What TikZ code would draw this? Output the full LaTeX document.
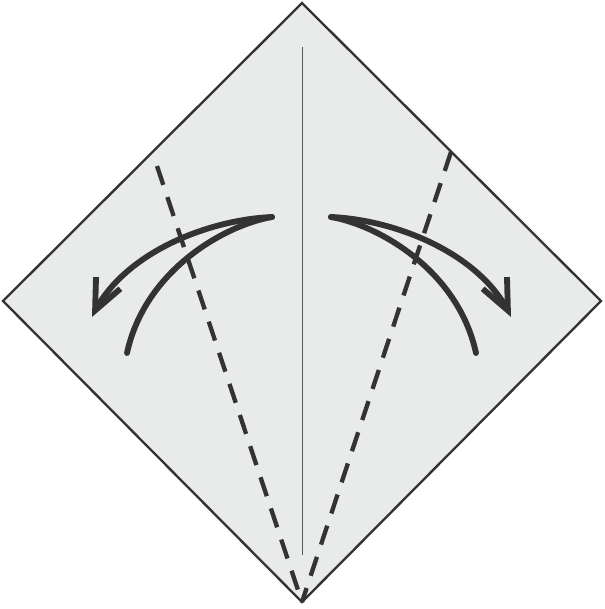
\documentclass[tikz,border=0pt]{standalone}
\usetikzlibrary{calc,arrows.meta,bending}

\definecolor{paper}{HTML}{E9EBEA}
\definecolor{ink}{HTML}{333333}

\begin{document}
\begin{tikzpicture}[x=0.03cm, y=-0.03cm,
    edgeline/.style={draw=ink, line width=2pt, line join=miter},
    midline/.style={draw=ink!80, line width=0.8pt},
    valley/.style={draw=ink, line width=3.7pt, dash pattern=on 17pt off 11pt},
    foldarrow/.style={draw=ink, line width=5pt, line cap=round}]

\useasboundingbox (0,0) rectangle (604,609);

% corners of the square
\coordinate (top) at (302,3);
\coordinate (left) at (3,301);
\coordinate (right) at (601,301);
\coordinate (bottom) at (302,602);

\filldraw[edgeline, fill=paper] (top) -- (right) -- (bottom) -- (left) -- cycle;

\draw[midline] (302,47) -- (302,555);

% fold lines
\coordinate (lfold) at (157,166);
\coordinate (rfold) at (451,152);
\draw[valley] (lfold) -- (bottom);
\draw[valley] (rfold) -- (bottom);

% left arrow
\coordinate (lstart) at (272,217);
\draw[foldarrow, -{Straight Barb[length=26pt, width=23pt, line width=5pt, flex]}]
    (lstart) .. controls (205,220) and (120,255) .. (92,317);
\draw[foldarrow] (lstart) .. controls (225,225) and (145,270) .. (127,353);

% right arrow
\coordinate (rstart) at (331,217);
\draw[foldarrow, -{Straight Barb[length=26pt, width=23pt, line width=5pt, flex]}]
    (rstart) .. controls (398,220) and (483,255) .. (511,317);
\draw[foldarrow] (rstart) .. controls (378,225) and (458,270) .. (476,353);

\end{tikzpicture}
\end{document}
